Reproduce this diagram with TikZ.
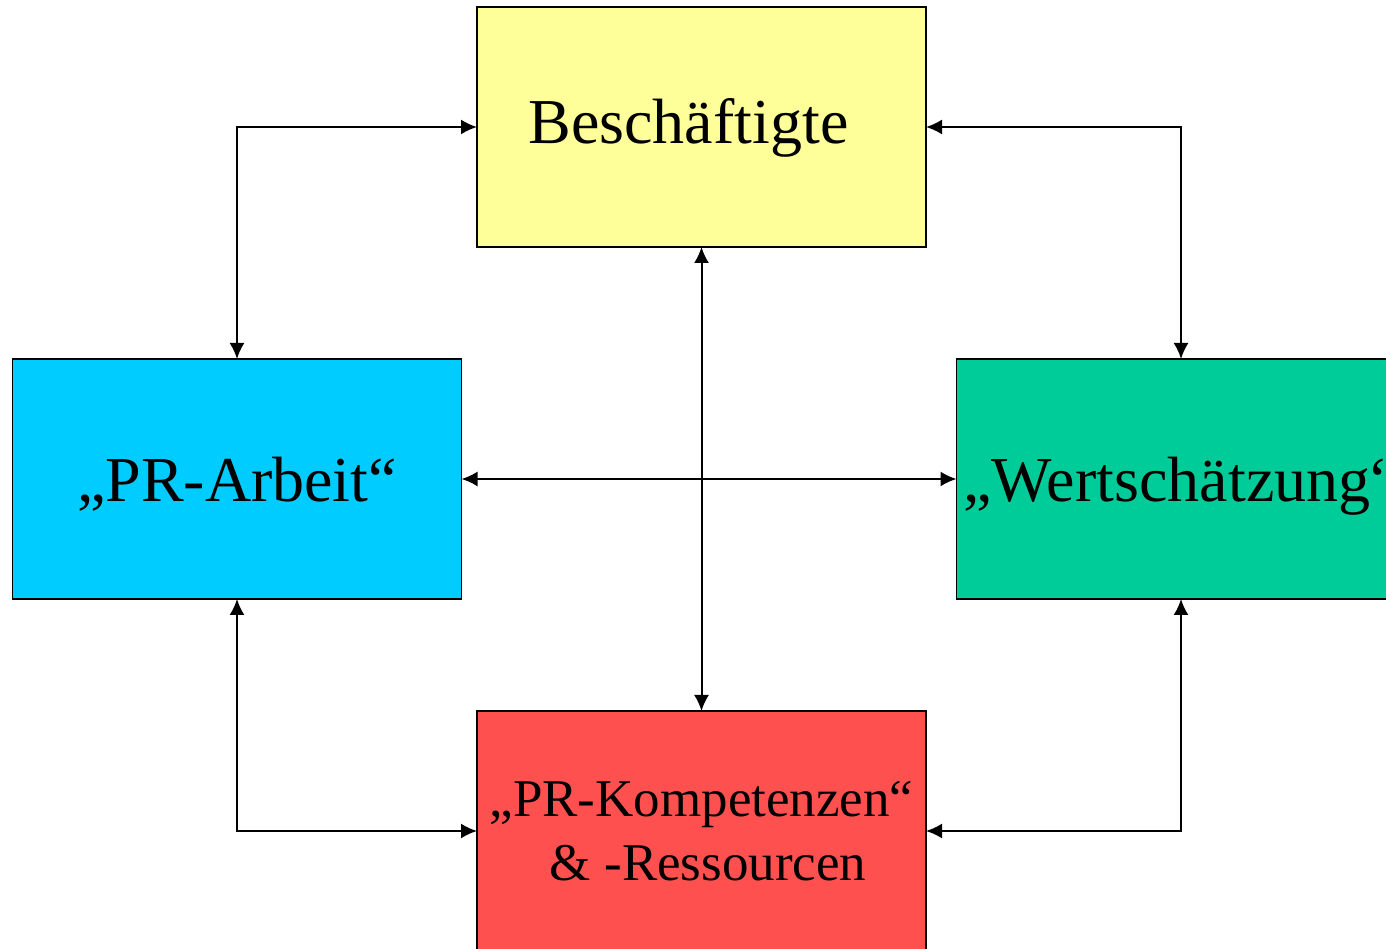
\documentclass[tikz,border=0pt]{standalone}
\usepackage{fontspec}
\setmainfont{Liberation Serif}
\usetikzlibrary{arrows.meta}
\definecolor{beschyellow}{RGB}{255,255,153}
\definecolor{arbeitblue}{RGB}{0,204,255}
\definecolor{wertgreen}{RGB}{0,204,153}
\definecolor{kompred}{RGB}{255,80,80}

\begin{document}
\begin{tikzpicture}[x=0.5pt, y=0.5pt,
  >={Latex[length=8pt,width=7.5pt]},
  box/.style={draw=black, line width=0.9pt, minimum width=224.5pt, minimum height=120pt, inner sep=0pt, outer sep=0pt, align=center, font=\fontsize{32}{38}\selectfont},
  link/.style={<->, line width=1pt}
]
\useasboundingbox (0,0) rectangle (1386,948);
\clip (0,0) rectangle (1386,948);
\node[box, fill=beschyellow, text height=17pt, text depth=0pt] (besch) at (701.5,821) {Besch\"aftigte\hspace*{13pt}};
\node[box, fill=arbeitblue, text height=23pt, text depth=0pt] (arbeit) at (237,469) {„PR-Arbeit“};
\node[box, fill=wertgreen, text height=23pt, text depth=0pt] (wert) at (1181,469) {„Wertsch\"atzung“};
\node[box, fill=kompred, font=\fontsize{26.5}{32}\selectfont] (komp) at (701.5,117) {„PR-Kompetenzen“\\\hspace*{0.25em}\& -Ressourcen};
\draw[link] (arbeit.north) |- (besch.west);
\draw[link] (besch.east) -| (wert.north);
\draw[link] (besch.south) -- (komp.north);
\draw[link] (arbeit.east) -- (wert.west);
\draw[link] (arbeit.south) |- (komp.west);
\draw[link] (wert.south) |- (komp.east);
\end{tikzpicture}
\end{document}
